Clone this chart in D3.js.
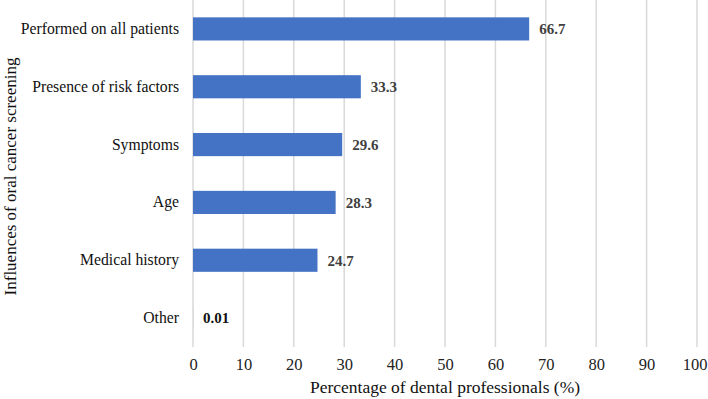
<!DOCTYPE html>
<html>
<head>
<meta charset="utf-8">
<script src="https://cdn.jsdelivr.net/npm/d3@7"></script>
<style>
  body { margin: 0; background: #fff; }
  svg { display: block; font-family: "Liberation Serif", "Times New Roman", serif; }
</style>
</head>
<body>
<svg width="708" height="399"></svg>
<script>
var categories = ["Performed on all patients", "Presence of risk factors", "Symptoms", "Age", "Medical history", "Other"];
var values = [66.7, 33.3, 29.6, 28.3, 24.7, 0.01];
var valueLabels = ["66.7", "33.3", "29.6", "28.3", "24.7", "0.01"];
var xTicks = [0, 10, 20, 30, 40, 50, 60, 70, 80, 90, 100];

var margin = {top: 0, right: 11, bottom: 52, left: 193};
var width = 708 - margin.left - margin.right;
var height = 399 - margin.top - margin.bottom;

var svg = d3.select("svg")
  .append("g")
  .attr("transform", "translate(" + margin.left + "," + margin.top + ")");

var x = d3.scaleLinear().domain([0, 100]).range([0, width]);
var y = d3.scaleBand().domain(categories).range([0, height]).paddingInner(0.6).paddingOuter(0.3);

// gridlines
svg.append("g")
  .selectAll("line")
  .data(xTicks)
  .enter().append("line")
    .attr("x1", function(d) { return x(d); })
    .attr("x2", function(d) { return x(d); })
    .attr("y1", 0)
    .attr("y2", height)
    .style("stroke", "#d9d9d9")
    .style("stroke-width", 1.5);

// x axis ticks
var xAxis = d3.axisBottom(x).tickValues(xTicks).tickSize(0).tickPadding(11);
var gx = svg.append("g")
  .attr("transform", "translate(0," + height + ")")
  .call(xAxis);
gx.select(".domain").remove();
gx.selectAll("text")
  .style("font-family", "Liberation Serif, serif")
  .style("font-size", "16.5px")
  .style("fill", "#222");

// keep the last tick label inside the window
gx.selectAll("text").each(function(d) {
  var half = this.getComputedTextLength() / 2;
  var over = margin.left + x(d) + half - 707;
  if (over > 0) d3.select(this).attr("x", -over);
});

// y axis labels
var yAxis = d3.axisLeft(y).tickSize(0).tickPadding(14);
var gy = svg.append("g").call(yAxis);
gy.select(".domain").remove();
gy.selectAll("text")
  .style("font-family", "Liberation Serif, serif")
  .style("font-size", "15.7px")
  .style("fill", "#111");

// bars
svg.append("g")
  .selectAll("rect")
  .data(values)
  .enter().append("rect")
    .attr("x", x(0))
    .attr("y", function(d, i) { return y(categories[i]); })
    .attr("width", function(d) { return x(d) - x(0); })
    .attr("height", y.bandwidth())
    .style("fill", "#4472c4");

// value labels
svg.append("g")
  .selectAll("text")
  .data(values)
  .enter().append("text")
    .attr("x", function(d) { return x(d) + 10; })
    .attr("y", function(d, i) { return y(categories[i]) + y.bandwidth() / 2; })
    .attr("dy", ".35em")
    .style("font-size", "15px")
    .style("font-weight", "bold")
    .style("fill", function(d, i) { return i === values.length - 1 ? "#111" : "#404040"; })
    .text(function(d, i) { return valueLabels[i]; });

// axis titles
svg.append("text")
  .attr("x", width / 2)
  .attr("y", height + 46)
  .style("text-anchor", "middle")
  .style("font-size", "17.5px")
  .style("fill", "#111")
  .text("Percentage of dental professionals (%)");

svg.append("text")
  .attr("transform", "rotate(-90)")
  .attr("x", -height / 2 - 3)
  .attr("y", -177)
  .style("text-anchor", "middle")
  .style("font-size", "17px")
  .style("fill", "#111")
  .text("Influences of oral cancer screening");
</script>
</body>
</html>
